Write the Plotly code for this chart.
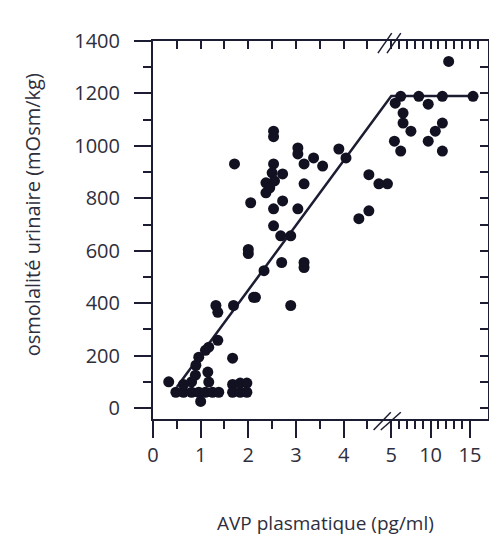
import plotly.graph_objects as go

# AVP plasmatique (pg/ml) et osmolalité urinaire (mOsm/kg)
avp = [0.33, 0.48, 0.64, 0.81, 0.96, 1.1, 1.25, 1.38,
       0.64, 0.81, 1.0, 0.89, 1.15, 1.17, 0.9, 0.96, 1.1, 1.17, 1.36,
       1.32, 1.36, 1.69, 2.11, 1.67,
       1.67, 1.67, 1.83, 1.83, 1.97, 1.97,
       2.53, 2.53, 1.71, 2.53, 2.72, 2.5, 2.37, 2.55, 2.37, 2.45, 2.05,
       2.72, 2.53, 3.04, 2.53, 2.68, 2.89, 2.0, 2.0, 2.7, 2.33, 2.15, 2.89,
       3.04, 3.04, 3.17, 3.37, 3.56, 3.9, 4.05, 3.17, 4.53, 4.74, 4.92,
       4.53, 4.32, 3.17, 3.17,
       12.3, 6.2, 8.5, 11.5, 15.4, 5.5, 9.7, 6.5, 6.5, 7.5, 11.5, 10.6,
       9.7, 5.4, 6.2, 11.5]
osm = [100, 60, 60, 60, 60, 60, 60, 60,
       90, 100, 25, 125, 137, 99, 163, 194, 220, 232, 258,
       391, 365, 391, 422, 190,
       90, 60, 95, 60, 95, 60,
       1056, 1035, 931, 931, 893, 897, 859, 866, 821, 840, 783,
       790, 760, 760, 695, 657, 657, 589, 605, 555, 524, 422, 391,
       992, 969, 931, 954, 923, 988, 954, 855, 890, 855, 855,
       752, 722, 555, 536,
       1322, 1189, 1189, 1189, 1189, 1163, 1159, 1125, 1087, 1056, 1087, 1056,
       1018, 1018, 980, 980]

# droite de régression puis plateau
line_avp = [0.5, 5.0, 15.5]
line_osm = [80, 1190, 1190]

x_ticks = [0, 1, 2, 3, 4, 5, 10, 15]
y_ticks = [0, 200, 400, 600, 800, 1000, 1200, 1400]

BREAK = 5.0
SQUEEZE = 0.165  # échelle comprimée au-delà de 5 pg/ml


def tx(v):
    return v if v <= BREAK else BREAK + (v - BREAK) * SQUEEZE


ink = '#1c1d33'
txt = '#2e2e3c'
font = 'Open Sans'

minor_bottom = [tx(v) for v in [0.5, 1.5, 2.5, 3.5, 4.5, 6, 7, 8, 9, 11, 12, 13, 14]]
top_ticks = [tx(v) for v in [0.5, 1, 1.5, 2, 2.5, 3, 3.5, 4, 4.5, 5, 6, 7, 8, 9, 10,
                             11, 12, 13, 14, 15, 16]]
xr = [0, 7.03]
yr = [-42, 1400]

fig = go.Figure()
fig.add_trace(go.Scatter(
    x=[tx(v) for v in line_avp], y=line_osm, mode='lines',
    line=dict(color=ink, width=2.5), hoverinfo='skip', showlegend=False))
fig.add_trace(go.Scatter(
    x=[tx(v) for v in avp], y=osm, mode='markers',
    marker=dict(size=11, color='#111122'), showlegend=False))
# axes miroir (haut et droite) avec graduations intérieures
fig.add_trace(go.Scatter(x=[None], y=[None], xaxis='x2', yaxis='y2',
                         showlegend=False, hoverinfo='skip'))

# la page ajoute une marge de 8 px autour du graphique
fig.update_layout(
    width=489, height=548,
    margin=dict(l=145, r=9, t=33, b=137),
    paper_bgcolor='white', plot_bgcolor='white',
    font=dict(family=font, color=txt),
    xaxis=dict(range=xr, showgrid=False, zeroline=False, showline=True,
               linecolor=ink, linewidth=2,
               tickmode='array', tickvals=[tx(v) for v in x_ticks],
               ticktext=[str(v) for v in x_ticks],
               ticks='outside', ticklen=17, tickwidth=1.5, tickcolor=ink,
               tickfont=dict(size=20, color=txt),
               minor=dict(tickmode='array', tickvals=minor_bottom, ticks='outside',
                          ticklen=8, tickwidth=1.5, tickcolor=ink)),
    yaxis=dict(range=yr, showgrid=False, zeroline=False, showline=True,
               linecolor=ink, linewidth=2,
               tickmode='array', tickvals=y_ticks,
               ticks='outside', ticklen=17, tickwidth=1.5, tickcolor=ink,
               tickfont=dict(size=20, color=txt), ticklabelstandoff=10,
               minor=dict(tickmode='array', tickvals=[100, 300, 500, 700, 900, 1100, 1300],
                          ticks='outside', ticklen=8, tickwidth=1.5, tickcolor=ink)),
    xaxis2=dict(range=xr, overlaying='x', side='top', showgrid=False, zeroline=False,
                showline=True, linecolor=ink, linewidth=2, showticklabels=False,
                tickmode='array', tickvals=top_ticks, ticks='inside', ticklen=8,
                tickwidth=1.5, tickcolor=ink),
    yaxis2=dict(range=yr, overlaying='y', side='right', showgrid=False, zeroline=False,
                showline=True, linecolor=ink, linewidth=2, showticklabels=False,
                tickmode='array', tickvals=list(range(0, 1401, 100)), ticks='inside',
                ticklen=8, tickwidth=1.5, tickcolor=ink),
    annotations=[
        dict(text='osmolalité urinaire (mOsm/kg)', textangle=-90, xref='paper', yref='paper',
             x=-0.36, y=0.54, xanchor='center', yanchor='middle', showarrow=False,
             font=dict(size=20, color=txt)),
        dict(text='AVP plasmatique (pg/ml)', xref='paper', yref='paper',
             x=0.516, y=-0.275, xanchor='center', yanchor='middle', showarrow=False,
             font=dict(size=19, color=txt)),
    ],
)

# marques de coupure "//" sur les axes
for x0, x1 in [(4.72, 5.01), (4.91, 5.20)]:
    fig.add_shape(type='line', xref='x', yref='paper', x0=x0, x1=x1, y0=0.968, y1=1.021,
                  line=dict(color=ink, width=1.5))
for x0, x1 in [(4.63, 4.99), (4.78, 5.20)]:
    fig.add_shape(type='line', xref='x', yref='paper', x0=x0, x1=x1, y0=-0.029, y1=0.018,
                  line=dict(color=ink, width=1.5))

fig.write_html("out.html")
